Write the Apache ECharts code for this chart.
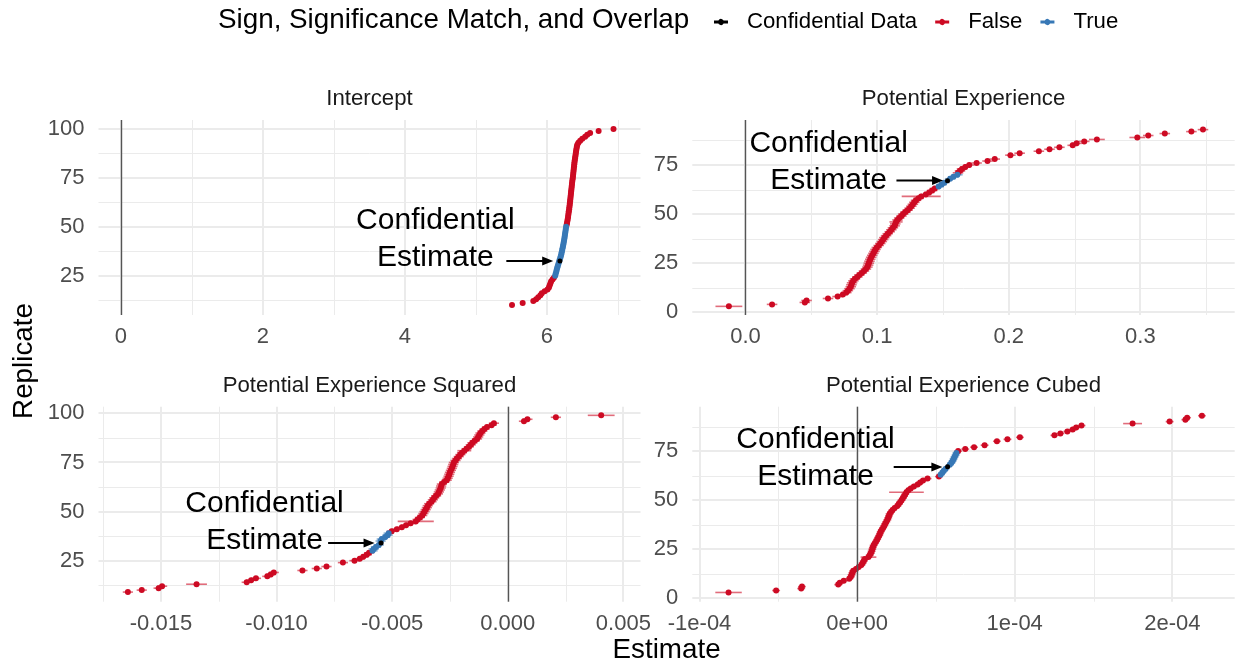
<!DOCTYPE html>
<html>
<head>
<meta charset="utf-8">
<script src="https://cdn.jsdelivr.net/npm/echarts@6/dist/echarts.min.js"></script>
<style>
  html, body { margin: 0; padding: 0; background: #fff; }
  #chart { width: 1238px; height: 665px; }
</style>
</head>
<body>
<div id="chart"></div>
<script>
// ---- data: [estimate, replicate, half width of interval (optional)] ----
const panelTitles = ['Intercept', 'Potential Experience', 'Potential Experience Squared', 'Potential Experience Cubed'];

const interceptFalse = [
  [5.51, 10], [5.66, 11], [5.81, 12], [5.85, 13], [5.88, 14], [5.91, 15], [5.93, 16], [5.97, 17], [6.01, 18],
  [6.03, 19], [6.04, 20], [6.05, 21], [6.06, 22], [6.08, 23], [6.10, 24],
  [6.28, 51], [6.285, 52], [6.29, 53], [6.295, 54], [6.30, 55], [6.303, 56], [6.307, 57], [6.31, 58], [6.315, 59],
  [6.318, 60], [6.322, 61], [6.325, 62], [6.328, 63], [6.331, 64], [6.334, 65], [6.337, 66], [6.34, 67], [6.343, 68],
  [6.346, 69], [6.349, 70], [6.352, 71], [6.355, 72], [6.358, 73], [6.362, 74], [6.366, 75], [6.369, 76], [6.372, 77],
  [6.375, 78], [6.378, 79], [6.381, 80], [6.384, 81], [6.387, 82], [6.39, 83], [6.394, 84], [6.398, 85], [6.402, 86],
  [6.406, 87], [6.41, 88], [6.414, 89], [6.419, 90], [6.424, 91], [6.43, 92], [6.445, 93], [6.47, 94], [6.50, 95],
  [6.54, 96], [6.57, 97], [6.61, 98], [6.73, 99], [6.94, 100]
];
const interceptTrue = [
  [6.118, 25], [6.125, 26], [6.133, 27], [6.14, 28], [6.147, 29], [6.155, 30], [6.163, 31], [6.172, 32], [6.18, 33],
  [6.19, 34], [6.197, 35], [6.204, 36], [6.21, 37], [6.216, 38], [6.222, 39], [6.228, 40], [6.233, 41], [6.238, 42],
  [6.243, 43], [6.248, 44], [6.252, 45], [6.256, 46], [6.26, 47], [6.264, 48], [6.268, 49], [6.272, 50]
];
const interceptConf = [[6.185, 32.5, 0.015]];

const expFalse = [
  [-0.0126, 3, 0.0102], [0.0202, 4], [0.0451, 5], [0.0464, 6], [0.0627, 7], [0.070, 8], [0.074, 9], [0.0766, 10],
  [0.0778, 11], [0.0790, 12], [0.080, 13], [0.0805, 14], [0.081, 15], [0.082, 16], [0.0832, 17], [0.085, 18],
  [0.0865, 19], [0.0884, 20], [0.090, 21], [0.0915, 22], [0.0926, 23], [0.0932, 24], [0.0937, 25], [0.0942, 26],
  [0.0948, 27], [0.0955, 28], [0.0963, 29], [0.0972, 30], [0.098, 31], [0.0988, 32], [0.0998, 33], [0.1012, 34],
  [0.1024, 35], [0.1036, 36], [0.1046, 37], [0.1055, 38], [0.1068, 39], [0.1081, 40], [0.1096, 41], [0.1108, 42],
  [0.112, 43], [0.1133, 44], [0.1138, 45], [0.1144, 46, 0.005], [0.1155, 47], [0.1168, 48], [0.1185, 49], [0.1198, 50],
  [0.1215, 51], [0.1232, 52], [0.1247, 53], [0.126, 54], [0.1272, 55], [0.1283, 56], [0.1296, 57], [0.1315, 58],
  [0.1335, 59, 0.0148], [0.137, 60], [0.1396, 61], [0.1418, 62], [0.1438, 63],
  [0.1615, 71], [0.163, 72], [0.1645, 73], [0.167, 74], [0.170, 75], [0.1756, 76], [0.1839, 77], [0.1894, 78],
  [0.2013, 80], [0.2083, 81], [0.2229, 82], [0.231, 83], [0.2385, 84], [0.2486, 85], [0.2516, 86], [0.2574, 87],
  [0.267, 88, 0.006], [0.2977, 89, 0.006], [0.306, 90], [0.3186, 91], [0.3388, 92], [0.3476, 93]
];
const expTrue = [[0.1468, 64], [0.149, 65], [0.151, 66], [0.1555, 68], [0.158, 69], [0.161, 70]];
const expConf = [[0.1535, 67, 0.002]];

const sqFalse = [
  [-0.01643, 9], [-0.01583, 10], [-0.0151, 11], [-0.01495, 12], [-0.01346, 13, 0.00045], [-0.01129, 14], [-0.0111, 15],
  [-0.01089, 16], [-0.0104, 17], [-0.01025, 18], [-0.01012, 19], [-0.00888, 20], [-0.00826, 21], [-0.00784, 22],
  [-0.00713, 24], [-0.00663, 25], [-0.0064, 26], [-0.00625, 27], [-0.0061, 28], [-0.006, 29],
  [-0.00502, 40], [-0.0048, 41], [-0.00458, 42], [-0.0044, 43], [-0.0042, 44], [-0.00398, 45, 0.00078], [-0.0039, 46],
  [-0.0038, 47], [-0.0037, 48], [-0.00365, 49], [-0.0036, 50], [-0.00355, 51], [-0.0035, 52], [-0.00346, 53],
  [-0.0034, 54], [-0.0033, 55], [-0.00324, 56], [-0.00318, 57], [-0.0031, 58], [-0.00302, 59], [-0.00298, 60],
  [-0.00294, 61], [-0.0029, 62], [-0.00288, 63], [-0.00285, 64], [-0.00275, 65], [-0.00264, 66], [-0.0026, 67],
  [-0.00256, 68], [-0.00253, 69], [-0.0025, 70], [-0.00246, 71], [-0.00242, 72], [-0.00239, 73], [-0.00236, 74],
  [-0.00233, 75], [-0.00226, 76], [-0.0022, 77], [-0.00212, 78], [-0.00205, 79], [-0.00198, 80], [-0.00188, 81, 0.0003],
  [-0.00178, 82], [-0.00168, 83], [-0.0016, 84], [-0.00153, 85], [-0.00143, 86], [-0.00133, 87], [-0.00128, 88],
  [-0.00123, 89], [-0.00118, 90], [-0.0011, 91], [-0.00101, 92], [-0.0009, 93], [-0.0007, 94], [-0.0006, 95],
  [0.0007, 96], [0.00085, 97], [0.00208, 98], [0.00404, 99, 0.00058]
];
const sqTrue = [
  [-0.00585, 30], [-0.0058, 31], [-0.0057, 32], [-0.00558, 33], [-0.0055, 35], [-0.00545, 36], [-0.0053, 37],
  [-0.0052, 38], [-0.00515, 39]
];
const sqConf = [[-0.00548, 34, 0.0001]];

const cubFalse = [
  [-8.16e-5, 3, 8.4e-6], [-5.14e-5, 4], [-3.55e-5, 5], [-3.5e-5, 6], [-1.2e-5, 7], [-1.1e-5, 8], [-8.5e-6, 9],
  [-5e-6, 10], [-4e-6, 11], [-3.5e-6, 12], [-3e-6, 13], [-2.5e-6, 14], [-7e-7, 15], [1e-6, 16], [2.7e-6, 17],
  [3.5e-6, 18], [4.2e-6, 19], [4.9e-6, 20], [7.2e-6, 21, 5e-6], [8e-6, 22], [8.7e-6, 23], [9.2e-6, 24], [9.6e-6, 25],
  [1.0e-5, 26], [1.05e-5, 27], [1.12e-5, 28], [1.2e-5, 29], [1.27e-5, 30], [1.33e-5, 31], [1.4e-5, 32], [1.45e-5, 33],
  [1.5e-5, 34], [1.57e-5, 35], [1.65e-5, 36], [1.72e-5, 37], [1.78e-5, 38], [1.85e-5, 39], [1.92e-5, 40], [1.97e-5, 41],
  [2.02e-5, 42], [2.06e-5, 43], [2.15e-5, 44], [2.25e-5, 45], [2.38e-5, 46], [2.55e-5, 47], [2.64e-5, 48],
  [2.73e-5, 49], [2.82e-5, 50], [2.9e-5, 51], [2.98e-5, 52], [3.05e-5, 53], [3.13e-5, 54, 1.1e-5], [3.25e-5, 55],
  [3.4e-5, 56], [3.6e-5, 57], [3.84e-5, 58], [4.0e-5, 59], [4.18e-5, 60], [4.47e-5, 61], [5.19e-5, 62],
  [6.41e-5, 75], [6.86e-5, 76], [7.42e-5, 77], [8.09e-5, 78], [8.87e-5, 80], [9.54e-5, 81], [1.033e-4, 82],
  [1.252e-4, 83], [1.29e-4, 84], [1.334e-4, 85], [1.368e-4, 86], [1.39e-4, 87], [1.424e-4, 88], [1.748e-4, 89, 6e-6],
  [1.983e-4, 90], [2.083e-4, 91], [2.094e-4, 92], [2.188e-4, 93]
];
const cubTrue = [
  [5.3e-5, 63], [5.4e-5, 64], [5.5e-5, 65], [5.62e-5, 66], [5.88e-5, 68], [5.98e-5, 69], [6.06e-5, 70],
  [6.12e-5, 71], [6.18e-5, 72], [6.25e-5, 73], [6.3e-5, 74]
];
const cubConf = [[5.74e-5, 67, 1e-6]];

// typical interval half width per panel, used where a point has none listed
const defaultErr = [0.02, 0.004, 0.00022, 2.5e-6];

// axes
const xRanges = [[-0.315, 7.32], [-0.0404, 0.3717], [-0.0177, 0.00574], [-1.046e-4, 2.396e-4]];
const yRanges = [[4.9, 104.6], [-1.4, 97.9], [4.1, 103.4], [-1.7, 97.6]];
const xTicks = [[0, 2, 4, 6], [0, 0.1, 0.2, 0.3], [-0.015, -0.01, -0.005, 0, 0.005], [-1e-4, 0, 1e-4, 2e-4]];
const xTickLabels = [
  ['0', '2', '4', '6'], ['0.0', '0.1', '0.2', '0.3'],
  ['-0.015', '-0.010', '-0.005', '0.000', '0.005'], ['-1e-04', '0e+00', '1e-04', '2e-04']
];
const xMinorTicks = [[1, 3, 5, 7], [0.05, 0.15, 0.25, 0.35], [-0.0175, -0.0125, -0.0075, -0.0025, 0.0025], [-5e-5, 5e-5, 1.5e-4]];
const yTicks = [[25, 50, 75, 100], [0, 25, 50, 75], [25, 50, 75, 100], [0, 25, 50, 75]];
const yMinorTicks = [12.5, 37.5, 62.5, 87.5];

// annotation anchors: text centre [x, y], arrow [x from, x to, y]
const noteText = [[4.43, 43.5], [0.0632, 76.4], [-0.01052, 44.5], [-2.64e-5, 71.5]];
const noteArrow = [[5.43, 6.09, 32.5], [0.1147, 0.1501, 67.1], [-0.00777, -0.00576, 34.0], [2.32e-5, 5.41e-5, 66.9]];

const groupNames = ['False', 'True', 'Confidential Data'];
const groupColors = ['#CD0A23', '#3778B6', '#000000'];

const panelData = [
  [interceptFalse, interceptTrue, interceptConf],
  [expFalse, expTrue, expConf],
  [sqFalse, sqTrue, sqConf],
  [cubFalse, cubTrue, cubConf]
];

const FONT = '"Liberation Sans", Arial, Helvetica, sans-serif';
const grids = [
  { left: 98.5, top: 120, width: 542, height: 195 },
  { left: 692.3, top: 120, width: 542.4, height: 195 },
  { left: 98.5, top: 406.7, width: 542, height: 195 },
  { left: 692.3, top: 406.7, width: 542.4, height: 195 }
];

function labelFor(ticks, labels, v) {
  for (let k = 0; k < ticks.length; k++) {
    if (Math.abs(ticks[k] - v) < 1e-12) return labels[k];
  }
  return '';
}

function errBarItem(params, api) {
  const lo = api.coord([api.value(0) - api.value(2), api.value(1)]);
  const hi = api.coord([api.value(0) + api.value(2), api.value(1)]);
  return {
    type: 'line',
    shape: { x1: lo[0], y1: lo[1], x2: hi[0], y2: hi[1] },
    style: { stroke: api.visual('color'), lineWidth: 1.6, opacity: 0.6 }
  };
}

// grid line rows: [value, major (1/0), vertical (1/0)], drawn across the whole panel
function gridLineItem(i) {
  return function (params, api) {
    const cs = params.coordSys;
    const v = api.value(0), isMajor = api.value(1) === 1, vertical = api.value(2) === 1;
    const w = isMajor ? 2 : 1, off = isMajor ? 0 : 0.5;
    if (vertical) {
      const x = Math.round(api.coord([v, yRanges[i][0]])[0]) + off;
      return { type: 'line', shape: { x1: x, y1: cs.y, x2: x, y2: cs.y + cs.height }, style: { stroke: '#EBEBEB', lineWidth: w } };
    }
    const y = Math.round(api.coord([xRanges[i][0], v])[1]) + off;
    return { type: 'line', shape: { x1: cs.x, y1: y, x2: cs.x + cs.width, y2: y }, style: { stroke: '#EBEBEB', lineWidth: w } };
  };
}

const xAxis = [], yAxis = [], series = [];

panelData.forEach(function (groups, i) {
  xAxis.push({
    type: 'value', gridIndex: i, min: xRanges[i][0], max: xRanges[i][1],
    axisLine: { show: false }, axisTick: { show: false }, splitLine: { show: false },
    axisLabel: {
      customValues: xTicks[i], margin: 11, fontSize: 22, color: '#4D4D4D', fontFamily: FONT,
      formatter: function (v) { return labelFor(xTicks[i], xTickLabels[i], v); }
    }
  });
  yAxis.push({
    type: 'value', gridIndex: i, min: yRanges[i][0], max: yRanges[i][1],
    axisLine: { show: false }, axisTick: { show: false }, splitLine: { show: false },
    axisLabel: {
      customValues: yTicks[i], margin: 14, fontSize: 22, color: '#4D4D4D', fontFamily: FONT,
      formatter: function (v) { return String(Math.round(v)); }
    }
  });

  // grid lines
  const rows = [];
  xMinorTicks[i].forEach(v => rows.push([v, 0, 1]));
  yMinorTicks.forEach(v => rows.push([v, 0, 0]));
  xTicks[i].forEach(v => rows.push([v, 1, 1]));
  yTicks[i].forEach(v => rows.push([v, 1, 0]));
  series.push({
    type: 'custom', name: 'grid' + i, xAxisIndex: i, yAxisIndex: i, z: 1, silent: true,
    data: rows, renderItem: gridLineItem(i)
  });
  // zero line
  series.push({
    type: 'line', name: 'zero' + i, xAxisIndex: i, yAxisIndex: i, data: [], z: 2,
    markLine: {
      silent: true, symbol: ['none', 'none'], label: { show: false },
      data: [{ xAxis: 0, lineStyle: { color: '#555555', width: 1.4, type: 'solid' } }]
    }
  });

  groups.forEach(function (pts, g) {
    const rows = pts.map(d => [d[0], d[1], d.length > 2 ? d[2] : defaultErr[i]]);
    series.push({
      type: 'custom', name: groupNames[g] + ' interval ' + i, xAxisIndex: i, yAxisIndex: i,
      itemStyle: { color: groupColors[g] }, encode: { x: 0, y: 1 }, z: 3,
      renderItem: errBarItem, data: rows, silent: true
    });
    series.push({
      type: 'scatter', name: groupNames[g], xAxisIndex: i, yAxisIndex: i,
      symbolSize: g === 2 ? 5 : 6, itemStyle: { color: groupColors[g], opacity: 1 }, z: 4,
      data: rows.map(r => [r[0], r[1]]), silent: true
    });
  });

  // annotation text + arrow
  series.push({
    type: 'custom', name: 'note' + i, xAxisIndex: i, yAxisIndex: i, z: 6, silent: true,
    data: [[noteText[i][0], noteText[i][1], noteArrow[i][0], noteArrow[i][1], noteArrow[i][2]]],
    encode: { x: 0, y: 1 },
    renderItem: function (params, api) {
      const t = api.coord([api.value(0), api.value(1)]);
      const a = api.coord([api.value(2), api.value(4)]);
      const b = api.coord([api.value(3), api.value(4)]);
      const len = 11, hw = 4.5;
      return {
        type: 'group',
        children: [
          {
            type: 'text',
            style: {
              text: 'Confidential\nEstimate', x: t[0], y: t[1],
              align: 'center', verticalAlign: 'middle', textAlign: 'center', textVerticalAlign: 'middle',
              fontSize: 30, fontFamily: FONT, lineHeight: 37, fill: '#000'
            }
          },
          {
            type: 'line',
            shape: { x1: a[0], y1: a[1], x2: b[0] - len * 0.6, y2: b[1] },
            style: { stroke: '#000', lineWidth: 1.8 }
          },
          {
            type: 'polygon',
            shape: { points: [[b[0], b[1]], [b[0] - len, b[1] - hw], [b[0] - len, b[1] + hw]] },
            style: { fill: '#000' }
          }
        ]
      };
    }
  });
});

const graphics = [
  {
    type: 'text', x: 218, y: 20,
    style: {
      text: 'Sign, Significance Match, and Overlap', fontSize: 27.8, fontFamily: FONT, fill: '#000',
      align: 'left', verticalAlign: 'middle', textAlign: 'left', textVerticalAlign: 'middle'
    }
  },
  {
    type: 'text', x: 666.6, y: 650,
    style: {
      text: 'Estimate', fontSize: 27.8, fontFamily: FONT, fill: '#000',
      align: 'center', verticalAlign: 'middle', textAlign: 'center', textVerticalAlign: 'middle'
    }
  },
  {
    type: 'text', x: 24, y: 361, rotation: Math.PI / 2,
    style: {
      text: 'Replicate', fontSize: 27.8, fontFamily: FONT, fill: '#000',
      align: 'center', verticalAlign: 'middle', textAlign: 'center', textVerticalAlign: 'middle'
    }
  }
];
grids.forEach(function (g, i) {
  graphics.push({
    type: 'text', x: g.left + g.width / 2, y: g.top - 21,
    style: {
      text: panelTitles[i], fontSize: 22.2, fontFamily: FONT, fill: '#1A1A1A',
      align: 'center', verticalAlign: 'middle', textAlign: 'center', textVerticalAlign: 'middle'
    }
  });
});

const option = {
  animation: false,
  backgroundColor: '#fff',
  grid: grids,
  xAxis: xAxis,
  yAxis: yAxis,
  legend: {
    data: ['Confidential Data', 'False', 'True'],
    left: 709, top: 6, itemWidth: 14, itemHeight: 6, itemGap: 18, selectedMode: false,
    icon: 'path://M0,1.5 L4.4,1.5 A3,3 0 0 1 9.6,1.5 L14,1.5 L14,4.5 L9.6,4.5 A3,3 0 0 1 4.4,4.5 L0,4.5 Z',
    textStyle: { fontSize: 22.2, color: '#000', fontFamily: FONT, padding: [0, 0, 0, 14] }
  },
  graphic: graphics,
  series: series
};

const chart = echarts.init(document.getElementById('chart'));
chart.setOption(option);
</script>
</body>
</html>
